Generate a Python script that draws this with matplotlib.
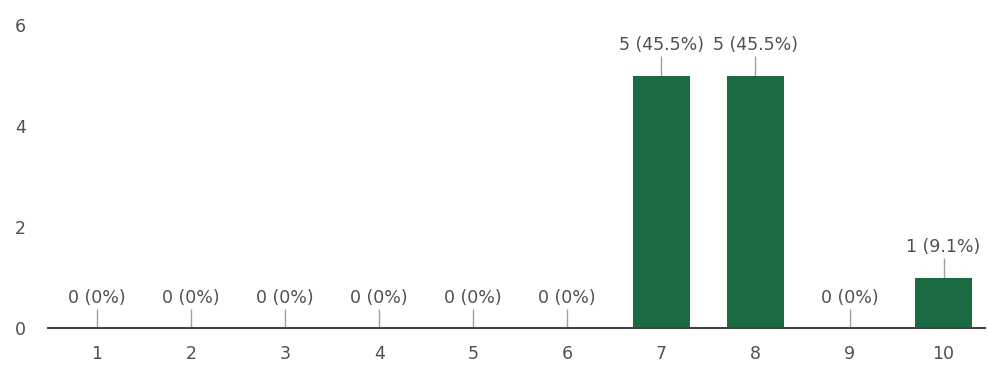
import matplotlib.pyplot as plt

categories = ['1', '2', '3', '4', '5', '6', '7', '8', '9', '10']
counts = [0, 0, 0, 0, 0, 0, 5, 5, 0, 1]
labels = ['0 (0%)', '0 (0%)', '0 (0%)', '0 (0%)', '0 (0%)', '0 (0%)',
          '5 (45.5%)', '5 (45.5%)', '0 (0%)', '1 (9.1%)']
yticks = [0, 2, 4, 6]

plt.rcParams['font.family'] = ['DejaVu Sans']

fig = plt.figure(figsize=(9.88, 3.65), dpi=100)
ax = fig.add_axes([48 / 988, 1 - 328 / 365, (985 - 48) / 988, (328 - 25) / 365])

xs = list(range(1, len(categories) + 1))
ax.bar(xs, counts, width=0.6, color='#1a6b42', zorder=2)

# leader lines + value labels
for x, v, lab in zip(xs, counts, labels):
    ax.vlines(x, v, v + 0.38, color='#a0a0a0', linewidth=1, zorder=1)
    ax.text(x, v + 0.6, lab, ha='center', va='center', fontsize=12.5, color='#505050')

ax.set_xlim(0.48, 10.44)
ax.set_ylim(0, 6)
ax.set_xticks(xs)
ax.set_xticklabels(categories)
ax.set_yticks(yticks)
ax.tick_params(axis='both', length=0, labelsize=12.5, labelcolor='#505050')
ax.tick_params(axis='x', pad=12)
ax.tick_params(axis='y', pad=16)

for s in ['top', 'right', 'left']:
    ax.spines[s].set_visible(False)
ax.spines['bottom'].set_color('#444444')
ax.spines['bottom'].set_linewidth(1.5)
ax.spines['bottom'].set_zorder(3)

fig.savefig('out.png', dpi=100)
